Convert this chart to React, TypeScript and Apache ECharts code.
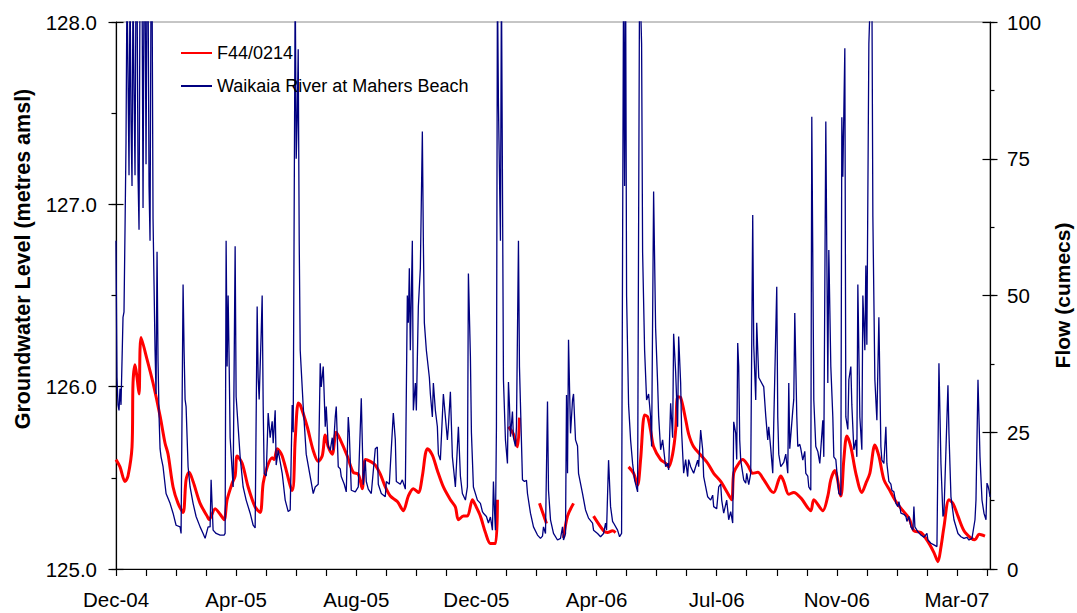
import React, { useEffect, useRef } from "react";
import * as echarts from "echarts";

// Days are counted from 7 Dec 2004; a major label every 120 days.
const xLabels = ["Dec-04", "Apr-05", "Aug-05", "Dec-05", "Apr-06", "Jul-06", "Nov-06", "Mar-07"];
const X_MAX = 873;

// Waikaia River at Mahers Beach flow (cumecs)
const flowDay = [
  0, 1, 2, 3, 4, 5, 6, 7, 8, 9, 10, 11, 12, 13, 14, 15, 16, 17, 18, 19, 20, 21, 22, 23, 24, 25, 26, 27, 28, 29,
  30, 31, 32, 33, 34, 35, 36, 37, 38, 39, 40, 41, 42, 43, 44, 45, 47, 50, 54, 57, 60, 64, 65, 67, 68, 69, 70, 72,
  74, 77, 80, 84, 87, 89, 92, 94, 95, 97, 100, 104, 108, 109, 110, 111, 112, 113, 114, 117, 119, 120, 124, 127,
  130, 134, 137, 139, 141, 142, 143, 145, 146, 147, 148, 150, 152, 154, 156, 157, 159, 160, 162, 166, 169, 172,
  174, 176, 177, 179, 180, 181, 182, 183, 184, 187, 190, 194, 197, 199, 202, 204, 205, 207, 209, 210, 212, 214,
  216, 217, 219, 220, 222, 224, 225, 228, 230, 232, 233, 235, 239, 242, 245, 247, 249, 250, 252, 255, 259, 261,
  262, 265, 269, 270, 273, 277, 279, 280, 284, 286, 289, 291, 292, 293, 294, 296, 297, 299, 300, 302, 304, 306,
  307, 308, 310, 313, 314, 316, 317, 319, 321, 322, 324, 327, 331, 332, 334, 336, 339, 342, 344, 346, 349, 351,
  352, 354, 355, 357, 361, 364, 366, 367, 370, 372, 374, 376, 377, 378, 379, 380, 381, 382, 384, 385, 387, 389,
  391, 392, 393, 394, 396, 397, 399, 400, 402, 403, 406, 408, 410, 411, 414, 417, 421, 424, 426, 427, 429, 431,
  432, 434, 437, 441, 444, 446, 447, 449, 450, 451, 452, 454, 456, 457, 459, 461, 462, 466, 469, 472, 476, 477,
  481, 484, 487, 489, 490, 492, 494, 496, 497, 501, 503, 505, 507, 508, 509, 510, 512, 514, 516, 518, 521, 523,
  525, 526, 528, 530, 532, 534, 535, 537, 539, 541, 542, 544, 546, 549, 551, 552, 554, 556, 557, 559, 561, 562,
  564, 565, 567, 569, 571, 572, 574, 577, 581, 582, 584, 586, 587, 591, 594, 596, 597, 600, 602, 604, 605, 607,
  610, 612, 614, 616, 617, 619, 620, 621, 622, 623, 624, 627, 629, 630, 632, 634, 636, 637, 639, 640, 642, 647,
  649, 651, 652, 654, 656, 657, 660, 661, 662, 664, 667, 669, 671, 672, 673, 676, 677, 678, 680, 681, 683, 684,
  686, 688, 689, 691, 692, 694, 695, 697, 699, 701, 703, 706, 707, 709, 711, 712, 714, 716, 717, 719, 721, 722,
  724, 725, 726, 728, 729, 731, 732, 734, 735, 737, 739, 740, 741, 743, 745, 746, 748, 749, 750, 752, 754, 755,
  756, 758, 760, 762, 764, 765, 767, 769, 770, 772, 774, 775, 777, 779, 781, 782, 783, 784, 787, 789, 790, 792,
  794, 796, 797, 798, 801, 804, 807, 810, 811, 814, 817, 820, 822, 824, 826, 827, 829, 831, 832, 834, 837, 841,
  844, 847, 850, 852, 855, 858, 859, 861, 863, 865, 867, 869, 870, 871, 872, 873,
];
const flowCumecs = [
  60, 35, 30, 29, 33, 30, 38, 46, 47, 62, 78, 108, 90, 72, 108, 82, 70, 108, 88, 72, 108, 108, 72, 62, 108, 108,
  108, 66, 108, 108, 74, 108, 108, 70, 60, 108, 108, 64, 52, 40, 32, 58, 38, 28, 22, 20.5, 18.7, 13.8, 12, 10.2,
  8, 7.7, 6.5, 52, 40, 31, 29.7, 18.7, 15, 12, 9.6, 7.7, 6.5, 5.6, 7.7, 7.7, 16.3, 7.1, 6.5, 6.2, 6.2, 6.5, 60,
  37, 50, 38, 24, 15, 59, 31.5, 20.5, 15, 12.6, 10.2, 8, 7.5, 48, 35, 31, 43, 50, 30, 17.5, 17, 28.5, 24, 27,
  23, 29, 19, 21.7, 17.5, 12.6, 10.5, 10.8, 30, 25, 108, 75, 82, 95, 60, 40, 29.7, 21, 16.9, 13.8, 15, 15.5,
  37.6, 33.3, 37, 26, 29.7, 22.4, 21.7, 24, 21.7, 27.8, 29.7, 18.7, 18.3, 16.9, 15.5, 14.1, 27.8, 25, 14.4,
  14.1, 15, 31.2, 15.4, 19.9, 16, 14.6, 13.8, 22, 22.3, 15.5, 13.8, 13.2, 16, 15.5, 28.5, 23.6, 16, 15.5, 16.3,
  14.6, 50, 45, 55, 40, 60, 29, 34, 29, 48, 55, 80, 60, 45, 40, 35, 32, 27.8, 34, 29, 26, 21, 19.9, 32, 23.6,
  26, 32.4, 20.5, 15, 26, 17, 13.8, 12.6, 15, 54, 38.8, 25, 15, 12.6, 12, 10.5, 10.2, 9.6, 8.4, 9.5, 7.1, 16,
  11, 7.1, 26, 108, 85, 60, 108, 34.6, 23.6, 19.3, 34.2, 30, 24.2, 28.8, 24, 22.4, 26, 60, 37, 16.3, 16, 16.2,
  13.8, 10.2, 7.7, 6.2, 5.6, 6, 7.7, 6.5, 30.6, 14.4, 9, 6.5, 5.3, 5.6, 7.7, 5.3, 6.5, 31.8, 17.5, 41.9, 24.8,
  30.9, 32, 23.6, 22.5, 17.5, 13.8, 10.8, 9.3, 8.4, 7.1, 6.5, 5.9, 6.5, 8.4, 7.1, 19.9, 11.4, 8.7, 8.4, 7.1,
  5.9, 6.5, 110, 70, 110, 50, 30, 23.6, 19.3, 16.3, 14.1, 110, 96, 58, 40, 30.9, 32, 27.8, 22.4, 69, 44, 34, 28,
  21.8, 23.6, 18.7, 19.3, 18.1, 30.3, 24, 43, 36, 26, 42.5, 34, 25, 17.5, 20, 16.9, 20, 18.7, 17.5, 19.9, 18.7,
  25.4, 21.8, 16.9, 13.2, 12.6, 13.5, 11.4, 11, 15, 15.5, 12.6, 10.2, 12.6, 9, 10.5, 8.4, 26.9, 24.8, 20, 41.3,
  37, 23.6, 19.9, 16.3, 15.7, 17.5, 15.4, 17.5, 64.7, 41, 30.9, 45, 35, 33.3, 28, 23.6, 26, 22, 17.5, 26.6,
  51.6, 27.8, 21, 18.7, 19.5, 21, 17.5, 34, 22, 29, 31, 46.8, 28, 22.4, 22.8, 22, 19.9, 21.5, 17.5, 17, 15,
  14.4, 82.7, 30.9, 22.4, 21.5, 19.3, 27.2, 20.5, 81.8, 34, 58.3, 37, 27.8, 20.5, 20, 15.7, 13.8, 13.5, 82.6,
  71.7, 95.2, 27.8, 25.5, 34.6, 37, 30, 21.8, 23.6, 20.5, 52, 27.8, 21.8, 50, 40, 55.5, 41, 96, 108, 108, 64.4,
  34.6, 27.2, 46, 22.4, 19.9, 19.3, 26, 19.3, 16, 15.5, 14.4, 14.1, 12, 11.4, 12.3, 11.4, 10.2, 10, 9.6, 8.7,
  9.6, 7.7, 7.1, 11.4, 7.7, 6.8, 6.2, 5.8, 6.5, 5.3, 4.7, 4.4, 4.1, 37.6, 19.3, 9.6, 10.2, 21.8, 33.6, 24.8,
  13.2, 9, 6.5, 5.9, 5.6, 5.8, 5.3, 5.6, 9, 12.6, 34.6, 20.5, 12.6, 10.2, 9, 15.7, 15.2, 14.4, 13.2,
];

// F44/0214 groundwater level (metres amsl); null marks a gap in the record
const gwDay = [
  0, 4, 9, 12, 16, 17, 19, 21, 23, 25, 31, 37, 44, 49, 52, 57, 62, 67, 70, 73, 77, 84, 91, 93, 99, 104, 108,
  111, 116, 119, 121, 126, 132, 139, 144, 147, 151, 156, 158, 161, 166, 176, 179, 182, 184, 191, 197, 202, 206,
  209, 212, 216, 220, 224, 231, 237, 242, 246, 249, 254, 259, 264, 269, 274, 281, 287, 292, 297, 302, 306, 309,
  311, 316, 321, 327, 334, 339, 342, 347, 351, 356, 359, 364, 369, 374, 379, 381, 385, 392, 397, 401, 403, 406,
  423, 430, 435, 447, 451, 457, 462, 477, 487, 491, 496, 499, 505, 512, 517, 521, 524, 528, 531, 534, 537, 544,
  549, 552, 556, 559, 561, 564, 569, 572, 577, 584, 591, 597, 604, 611, 615, 617, 621, 626, 631, 636, 641, 647,
  654, 657, 662, 664, 667, 672, 677, 684, 694, 697, 706, 711, 714, 718, 724, 727, 730, 734, 739, 745, 749, 753,
  758, 762, 767, 772, 779, 786, 792, 797, 804, 811, 817, 821, 824, 827, 832, 836, 841, 847, 854, 858, 862, 868,
];
const gwLevel = [
  125.6, 125.56, 125.48, 125.51, 125.67, 126.02, 126.12, 126.05, 125.96, 126.27, 126.15, 126.02, 125.84, 125.69,
  125.63, 125.45, 125.36, 125.31, 125.49, 125.53, 125.48, 125.36, 125.29, 125.27, 125.33, 125.3, 125.27, 125.38,
  125.47, 125.51, 125.62, 125.58, 125.45, 125.34, 125.31, 125.47, 125.56, 125.61, 125.6, 125.66, 125.62, 125.43,
  125.71, 125.91, 125.9, 125.78, 125.65, 125.59, 125.62, 125.735, 125.67, 125.63, 125.75, 125.71, 125.62, 125.53,
  125.52, 125.44, 125.6, 125.59, 125.57, 125.52, 125.45, 125.4, 125.37, 125.32, 125.4, 125.44, 125.42, 125.51,
  125.63, 125.66, 125.625, 125.54, 125.45, 125.38, 125.34, 125.27, 125.29, 125.29, 125.38, 125.35, 125.29, 125.2,
  125.14, 125.14, 125.38, null, 125.78, 125.74, 125.67, 125.83, null, 125.36, 125.25, null, 125.17, 125.29,
  125.36, null, 125.29, 125.21, 125.2, 125.21, 125.2, null, 125.56, 125.525, 125.46, 125.6, 125.845, 125.835,
  125.76, 125.67, 125.6, 125.58, 125.56, 125.63, 125.76, 125.945, 125.94, 125.82, 125.74, 125.67, 125.625,
  125.58, 125.525, 125.48, 125.415, 125.38, 125.525, 125.57, 125.6, 125.57, 125.525, 125.53, 125.49, 125.43,
  125.42, 125.49, 125.51, 125.48, 125.41, 125.42, 125.39, 125.32, 125.38, 125.32, 125.4, 125.49, 125.54, 125.4,
  125.6, 125.73, 125.67, 125.525, 125.42, 125.47, 125.525, 125.68, 125.62, 125.49, 125.44, 125.37, 125.32,
  125.28, 125.21, 125.2, 125.15, 125.09, 125.04, 125.12, 125.23, 125.38, 125.36, 125.29, 125.21, 125.17, 125.16,
  125.19, 125.18,
];

const FONT = "'Liberation Sans', Arial, Helvetica, sans-serif";
const TITLE_STYLE = { fontSize: 21, fontWeight: "bold", color: "#000", fontFamily: FONT };

// A tick-only copy of an axis, used to draw the longer major ticks on both sides of the line.
function majorTicks(
  min: number,
  max: number,
  interval: number,
  position: "left" | "right",
  inside: boolean
) {
  return {
    type: "value",
    min,
    max,
    interval,
    position,
    offset: 0,
    silent: true,
    splitLine: { show: false },
    axisLine: { show: false },
    axisLabel: { show: false },
    axisTick: { show: true, inside, length: 7.5, lineStyle: { color: "#000", width: 1.2 } },
  };
}

export default function App() {
  const ref = useRef<HTMLDivElement>(null);

  useEffect(() => {
    if (!ref.current) return;
    const chart = echarts.init(ref.current, null, { renderer: "svg" });

    const flowData = flowDay.map((d, i) => [d, flowCumecs[i]]);
    const gwData = gwDay.map((d, i) => [d, gwLevel[i]]);

    chart.setOption({
      animation: false,
      backgroundColor: "#ffffff",
      textStyle: { fontFamily: FONT },
      grid: {
        left: 116,
        right: 87,
        top: 22,
        bottom: 44,
        containLabel: false,
        outerBoundsMode: "none",
        show: true,
        borderColor: "#8c8c8c",
        borderWidth: 1,
        backgroundColor: "transparent",
      },
      // Left axis title sits above the axis midpoint, so it is placed on its own.
      graphic: [
        {
          type: "text",
          x: 23,
          y: 259,
          rotation: Math.PI / 2,
          style: {
            text: "Groundwater Level (metres amsl)",
            align: "center",
            verticalAlign: "middle",
            fill: "#000",
            font: `bold 21.5px ${FONT}`,
          },
        },
      ],
      legend: {
        orient: "vertical",
        left: 181,
        top: 44,
        padding: 0,
        icon: "rect",
        itemWidth: 31,
        itemHeight: 2,
        itemGap: 15,
        textStyle: { fontSize: 18, color: "#000", fontFamily: FONT },
        data: ["F44/0214", "Waikaia River at Mahers Beach"],
      },
      xAxis: {
        type: "value",
        min: 0,
        max: X_MAX,
        interval: 30,
        splitLine: { show: false },
        axisLine: { lineStyle: { color: "#000", width: 1.2 } },
        axisTick: { show: true, length: 7, lineStyle: { color: "#000", width: 1.2 } },
        axisLabel: {
          margin: 20,
          fontSize: 20.5,
          color: "#000",
          fontFamily: FONT,
          showMaxLabel: false,
          formatter: (v: number) => (v % 120 === 0 ? xLabels[v / 120] ?? "" : ""),
        },
      },
      yAxis: [
        {
          type: "value",
          min: 125,
          max: 128,
          interval: 0.5,
          position: "left",
          splitLine: { show: false },
          axisLine: { show: true, lineStyle: { color: "#000", width: 1.2 } },
          axisTick: { show: true, length: 4.5, lineStyle: { color: "#000", width: 1.2 } },
          axisLabel: {
            margin: 19,
            fontSize: 20.5,
            color: "#000",
            fontFamily: FONT,
            formatter: (v: number) => (Math.abs(v - Math.round(v)) < 1e-9 ? v.toFixed(1) : ""),
          },
        },
        {
          type: "value",
          min: 0,
          max: 100,
          interval: 12.5,
          position: "right",
          name: "Flow (cumecs)",
          nameLocation: "middle",
          nameRotate: 90,
          nameGap: 57,
          nameTextStyle: TITLE_STYLE,
          splitLine: { show: false },
          axisLine: { show: true, lineStyle: { color: "#000", width: 1.2 } },
          axisTick: { show: true, length: 4.5, lineStyle: { color: "#000", width: 1.2 } },
          axisLabel: {
            margin: 17,
            fontSize: 20.5,
            color: "#000",
            fontFamily: FONT,
            formatter: (v: number) => (v % 25 === 0 ? String(v) : ""),
          },
        },
        majorTicks(125, 128, 1, "left", false),
        majorTicks(125, 128, 1, "left", true),
        majorTicks(0, 100, 25, "right", false),
        majorTicks(0, 100, 25, "right", true),
      ],
      series: [
        {
          name: "F44/0214",
          type: "line",
          yAxisIndex: 0,
          data: gwData,
          symbol: "none",
          connectNulls: false,
          smooth: 0.3,
          lineStyle: { color: "#ff0000", width: 3 },
          itemStyle: { color: "#ff0000" },
          z: 2,
        },
        {
          name: "Waikaia River at Mahers Beach",
          type: "line",
          yAxisIndex: 1,
          data: flowData,
          symbol: "none",
          clip: true,
          lineStyle: { color: "#000080", width: 1.3 },
          itemStyle: { color: "#000080" },
          z: 3,
        },
      ],
    });

    return () => chart.dispose();
  }, []);

  return (
    <div
      ref={ref}
      style={{ position: "absolute", left: 0, top: 0, width: 1077, height: 613 }}
    />
  );
}
